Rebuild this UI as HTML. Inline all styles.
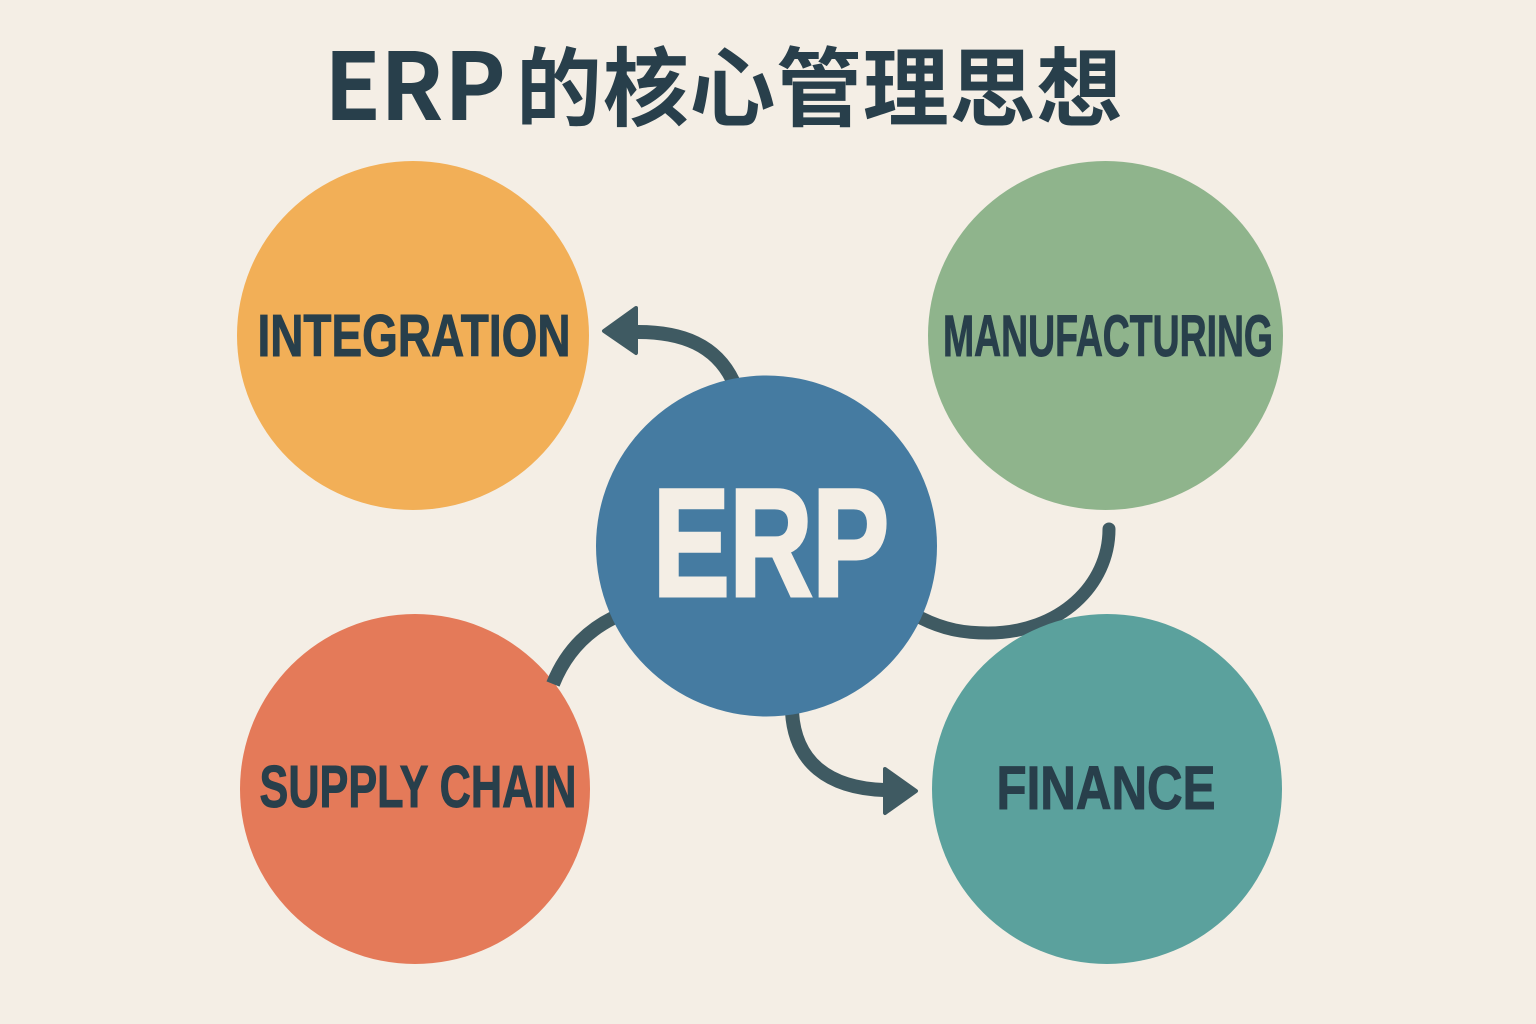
<!DOCTYPE html>
<html>
<head>
<meta charset="utf-8">
<style>
html,body{margin:0;padding:0;background:#f4eee5;}
svg{display:block;}
</style>
</head>
<body>
<svg width="1536" height="1024" viewBox="0 0 1536 1024" xmlns="http://www.w3.org/2000/svg">
<rect width="1536" height="1024" fill="#f4eee5"/>
<text x="324 380 444" y="120" font-family="'Noto Sans CJK SC',sans-serif" font-weight="700" font-size="93" fill="#283f4b">ERP</text>
<text x="516" y="119" font-family="'Noto Sans CJK SC',sans-serif" font-weight="700" font-size="86" fill="#283f4b" letter-spacing="0.700">的核心管理思想</text>
<ellipse cx="413" cy="335.500" rx="176" ry="174.500" fill="#f2af57"/>
<ellipse cx="1105.500" cy="335.500" rx="177.500" ry="174.500" fill="#8fb48c"/>
<circle cx="415" cy="789" r="175" fill="#e47a59"/>
<g fill="none" stroke="#3f5a62" stroke-width="14" stroke-linecap="butt">
<path d="M733 381C716 345 682 332 638 332"/>
<path d="M921 618C945 630 965 633 988 633C1060 633 1109 585 1109 529" stroke-linecap="round" stroke-width="13"/>
<path d="M613 618C585 632 565 654 553 684"/>
<path d="M792 712C795 762 828 788 884 790"/>
</g>
<polygon points="636,308 604,331 636,353" fill="#3f5a62" stroke="#3f5a62" stroke-width="4" stroke-linejoin="round"/>
<polygon points="885,769 916,791 885,813" fill="#3f5a62" stroke="#3f5a62" stroke-width="4" stroke-linejoin="round"/>
<circle cx="1107" cy="789" r="175" fill="#5ba19d"/>
<circle cx="766.500" cy="546" r="170.500" fill="#457ba1"/>
<g font-family="'Liberation Sans',sans-serif" font-weight="700" fill="#283f4b" stroke="#283f4b" stroke-width="1" text-anchor="middle">
<text x="414" y="356" font-size="59" textLength="313" lengthAdjust="spacingAndGlyphs">INTEGRATION</text>
<text x="1108" y="356" font-size="58" textLength="330" lengthAdjust="spacingAndGlyphs">MANUFACTURING</text>
<text x="418" y="807" font-size="59" textLength="317" lengthAdjust="spacingAndGlyphs">SUPPLY CHAIN</text>
<text x="1106" y="809" font-size="61" textLength="219" lengthAdjust="spacingAndGlyphs">FINANCE</text>
<text x="771" y="595.500" font-size="153" fill="#f4eee5" stroke="#f4eee5" stroke-width="4" textLength="236" lengthAdjust="spacingAndGlyphs">ERP</text>
</g>
</svg>
</body>
</html>
